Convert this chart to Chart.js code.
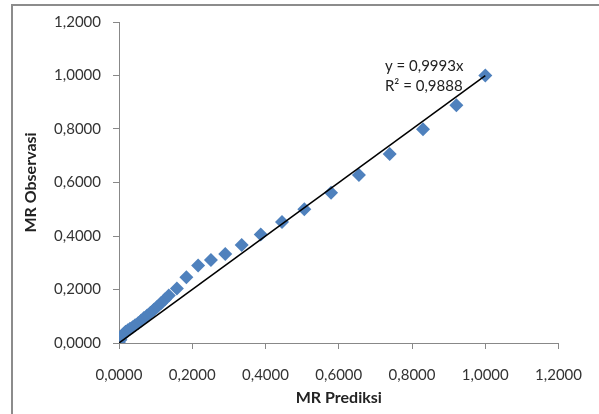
<!DOCTYPE html>
<html>
<head>
<meta charset="utf-8">
<script src="https://cdn.jsdelivr.net/npm/chart.js@4"></script>
<style>
html,body{margin:0;padding:0;background:#fff;}
#wrap{position:relative;width:599px;height:414px;}
</style>
</head>
<body>
<div id="wrap"><canvas id="c" width="599" height="414"></canvas></div>
<script>
// MR Prediksi (x) values
const mrPrediksi = [0.000,0.004,0.008,0.013,0.018,0.024,0.030,0.037,0.044,0.052,0.060,0.068,0.077,0.086,0.095,0.105,0.115,0.125,0.136,0.158,0.184,0.216,0.251,0.290,0.335,0.387,0.445,0.506,0.579,0.655,0.739,0.830,0.921,1.000];
// MR Observasi (y) values
const mrObservasi = [0.000,0.012,0.024,0.035,0.042,0.048,0.053,0.059,0.066,0.074,0.083,0.093,0.103,0.113,0.124,0.136,0.150,0.163,0.178,0.204,0.246,0.290,0.310,0.333,0.366,0.406,0.452,0.500,0.562,0.628,0.707,0.799,0.889,1.000];
// Trend line y = 0,9993x evaluated at its ends
const trendSlope = 0.9993;
const trendX = [0, 1];
const axisTicks = [0, 0.2, 0.4, 0.6, 0.8, 1.0, 1.2];
const eqLines = ["y = 0,9993x", "R² = 0,9888"];

const fmt = v => v.toFixed(4).replace('.', ',');
const FONT = "Lato, 'Open Sans', sans-serif";

const scatterData = mrPrediksi.map((x, i) => ({x: x, y: mrObservasi[i]}));
const trendData = trendX.map(x => ({x: x, y: trendSlope * x}));

const frame = {
  id: 'frame',
  beforeDraw(chart) {
    const ctx = chart.ctx;
    ctx.save();
    ctx.fillStyle = '#fff';
    ctx.fillRect(0, 0, chart.width, chart.height);
    ctx.strokeStyle = '#8c8c8c';
    ctx.lineWidth = 2;
    ctx.beginPath();
    ctx.moveTo(12, chart.height);
    ctx.lineTo(12, 5);
    ctx.lineTo(chart.width, 5);
    ctx.stroke();
    ctx.restore();
  }
};

const eqLabel = {
  id: 'eqLabel',
  afterDatasetsDraw(chart) {
    const ctx = chart.ctx;
    const xs = chart.scales.x, ys = chart.scales.y;
    const px = xs.getPixelForValue(0.726);
    const py = ys.getPixelForValue(1.018);
    ctx.save();
    ctx.font = "15px " + FONT;
    ctx.fillStyle = '#222';
    ctx.textBaseline = 'alphabetic';
    ctx.textAlign = 'left';
    ctx.fillText(eqLines[0], px, py);
    ctx.fillText(eqLines[1], px, py + 20);
    ctx.restore();
  }
};

new Chart(document.getElementById('c'), {
  type: 'scatter',
  data: {
    datasets: [
      {
        type: 'line',
        data: trendData,
        borderColor: '#000',
        borderWidth: 1.5,
        pointRadius: 0,
        fill: false,
        order: 0
      },
      {
        data: scatterData,
        pointStyle: 'rectRot',
        pointRadius: 7,
        backgroundColor: '#4F81BD',
        borderColor: '#4F81BD',
        borderWidth: 0,
        order: 1
      }
    ]
  },
  options: {
    responsive: false,
    animation: false,
    events: [],
    layout: {padding: {left: 12, top: 22, right: 38, bottom: 0}},
    plugins: {legend: {display: false}, tooltip: {enabled: false}},
    scales: {
      x: {
        type: 'linear', min: 0, max: 1.2,
        afterBuildTicks: s => { s.ticks = axisTicks.map(v => ({value: v})); },
        afterFit: s => { s.height = 71; },
        ticks: {callback: v => fmt(v), font: {family: FONT, size: 15}, color: '#333', padding: 17, maxRotation: 0},
        grid: {drawOnChartArea: false, drawTicks: true, tickLength: 6, color: '#888'},
        border: {color: '#888', width: 1},
        title: {display: true, text: 'MR Prediksi', font: {family: FONT, size: 16, weight: 'bold'}, color: '#222', padding: {top: 0, bottom: 7}}
      },
      y: {
        type: 'linear', min: 0, max: 1.2,
        afterBuildTicks: s => { s.ticks = axisTicks.map(v => ({value: v})); },
        afterFit: s => { s.width = 107; },
        ticks: {callback: v => fmt(v), font: {family: FONT, size: 15}, color: '#333', padding: 12},
        grid: {drawOnChartArea: false, drawTicks: true, tickLength: 6, color: '#888'},
        border: {color: '#888', width: 1},
        title: {display: true, text: 'MR Observasi', font: {family: FONT, size: 16, weight: 'bold'}, color: '#222', padding: {top: 9, bottom: 0}}
      }
    }
  },
  plugins: [frame, eqLabel]
});
</script>
</body>
</html>
